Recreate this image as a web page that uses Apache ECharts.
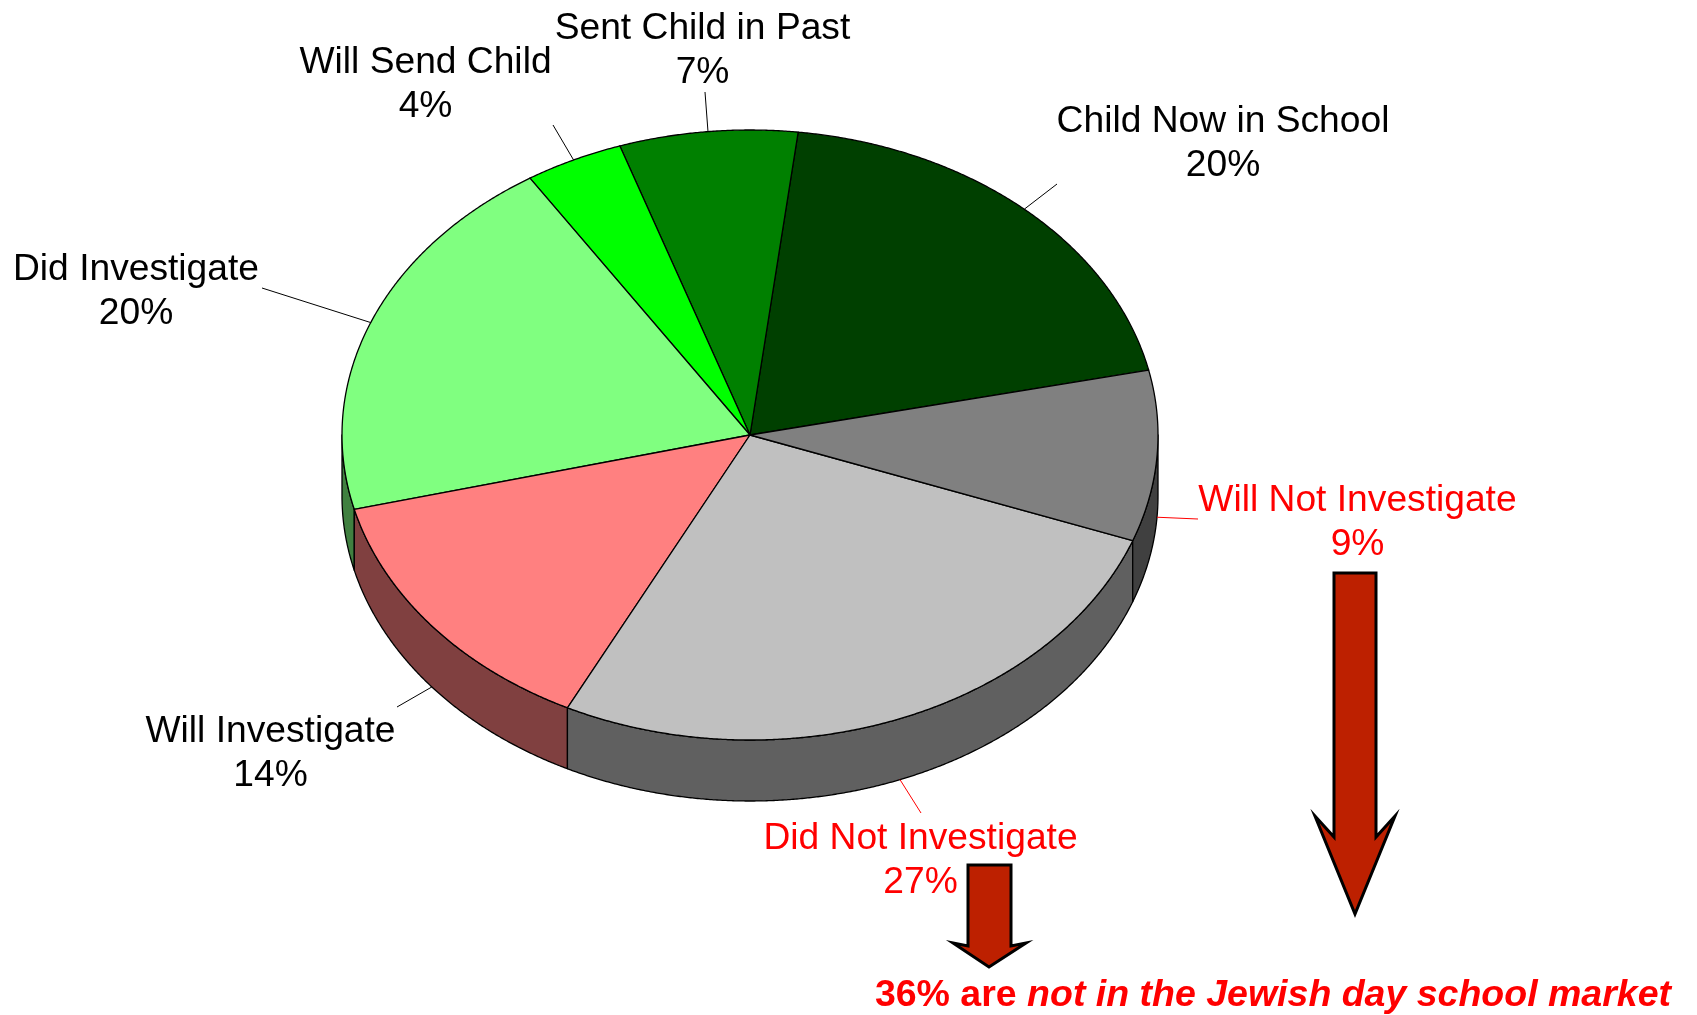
<!DOCTYPE html>
<html>
<head>
<meta charset="utf-8">
<style>html,body{margin:0;padding:0;background:#fff}#chart{width:1697px;height:1015px}</style>
<script src="https://cdn.jsdelivr.net/npm/echarts@6/dist/echarts.min.js"></script>
</head>
<body>
<div id="chart"></div>
<script>
// Data
const categories = ['Child Now in School','Sent Child in Past','Will Send Child','Did Investigate','Will Investigate','Did Not Investigate','Will Not Investigate'];
const values = [19.7, 7.05, 3.9, 19.85, 13.7, 26.75, 9.05];
const percentLabels = ['20%','7%','4%','20%','14%','27%','9%'];
const topColors = ['#004000','#008000','#00ff00','#80ff80','#ff8080','#c0c0c0','#808080'];
const sideColors = ['#002000','#004000','#008000','#408040','#804040','#606060','#404040'];
const labelColors = ['#000000','#000000','#000000','#000000','#000000','#ff0000','#ff0000'];
const footnoteLead = '36% are ';
const footnoteEmphasis = 'not in the Jewish day school market';

// Layout
const cx = 750, cy = 435, rx = 408, ry = 305, depth = 61, startAngle = 12.3;
const labelCenters = [[1223,143.5],[702.5,50.5],[425.5,84.5],[136,291.5],[270.5,753.5],[920.5,860.5],[1357.5,522.5]];
const leaderEnds = [[1057,184],[705,92],[553,125],[262,288],[397,707],[921,813],[1198,519]];
const total = values.reduce((a,b)=>a+b,0);
const FONT = '"Liberation Sans", Arial, sans-serif';

function pt(deg, dy){
  const r = deg*Math.PI/180;
  return [cx+rx*Math.cos(r), cy-ry*Math.sin(r)+(dy||0)];
}
function arc(a0,a1,dy){
  const n = Math.max(2, Math.ceil(Math.abs(a1-a0)*4)), out = [];
  for(let i=0;i<=n;i++) out.push(pt(a0+(a1-a0)*i/n, dy));
  return out;
}
function renderSlice(params, api){
  const i = params.dataIndex, v = api.value(0);
  let before = 0;
  for(let k=0;k<i;k++) before += values[k];
  const a0 = startAngle+before/total*360, a1 = a0+v/total*360, mid = (a0+a1)/2;
  const children = [];
  // side wall, only for the part of the rim that faces the viewer
  const lo = Math.max(a0,180), hi = Math.min(a1,360);
  if(lo<hi){
    children.push({type:'polygon', shape:{points:arc(lo,hi,0).concat(arc(hi,lo,depth))},
      style:{fill:sideColors[i], stroke:'#000', lineWidth:1.3, lineJoin:'round'}});
  }
  // top face
  children.push({type:'polygon', shape:{points:[[cx,cy]].concat(arc(a0,a1,0))},
    style:{fill:topColors[i], stroke:'#000', lineWidth:1.3, lineJoin:'round'}});
  // leader line starts at the outer rim at the slice's mid angle
  const norm = ((mid%360)+360)%360;
  const anchor = pt(mid, norm>180 ? depth : 0);
  children.push({type:'line', shape:{x1:anchor[0],y1:anchor[1],x2:leaderEnds[i][0],y2:leaderEnds[i][1]},
    style:{stroke:labelColors[i], lineWidth:1}});
  children.push({type:'text', style:{x:labelCenters[i][0], y:labelCenters[i][1],
    text:categories[i]+'\n'+percentLabels[i], fill:labelColors[i],
    font:'37.2px '+FONT, lineHeight:44, align:'center', verticalAlign:'middle'}});
  return {type:'group', children};
}
function arrow(x0,x1,top,neck,barbY,barbL,barbR,tip,tipX){
  return {type:'polygon', z:10, shape:{points:[[x0,top],[x1,top],[x1,neck],[barbR,barbY],[tipX,tip],[barbL,barbY],[x0,neck]]},
    style:{fill:'#bd2000', stroke:'#000', lineWidth:3, lineJoin:'miter', miterLimit:10}};
}
const chart = echarts.init(document.getElementById('chart'), null, {renderer:'canvas'});
chart.setOption({
  backgroundColor:'#ffffff',
  animation:false,
  series:[{
    type:'custom',
    coordinateSystem:'none',
    renderItem:renderSlice,
    silent:true,
    data:values.map((v,i)=>({name:categories[i], value:[v]}))
  }],
  graphic:[
    arrow(1334,1376,573,837,816,1315,1395,914,1355),
    arrow(968,1011,865,946,943,953,1026,967,989),
    {type:'text', z:10, style:{x:1671, y:996, align:'right', verticalAlign:'middle',
      text:'{a|'+footnoteLead+'}{b|'+footnoteEmphasis+'}',
      rich:{
        a:{font:'bold 37.5px '+FONT, fill:'#ff0000'},
        b:{font:'italic bold 37.5px '+FONT, fill:'#ff0000'}
      }}}
  ]
});
</script>
</body>
</html>
